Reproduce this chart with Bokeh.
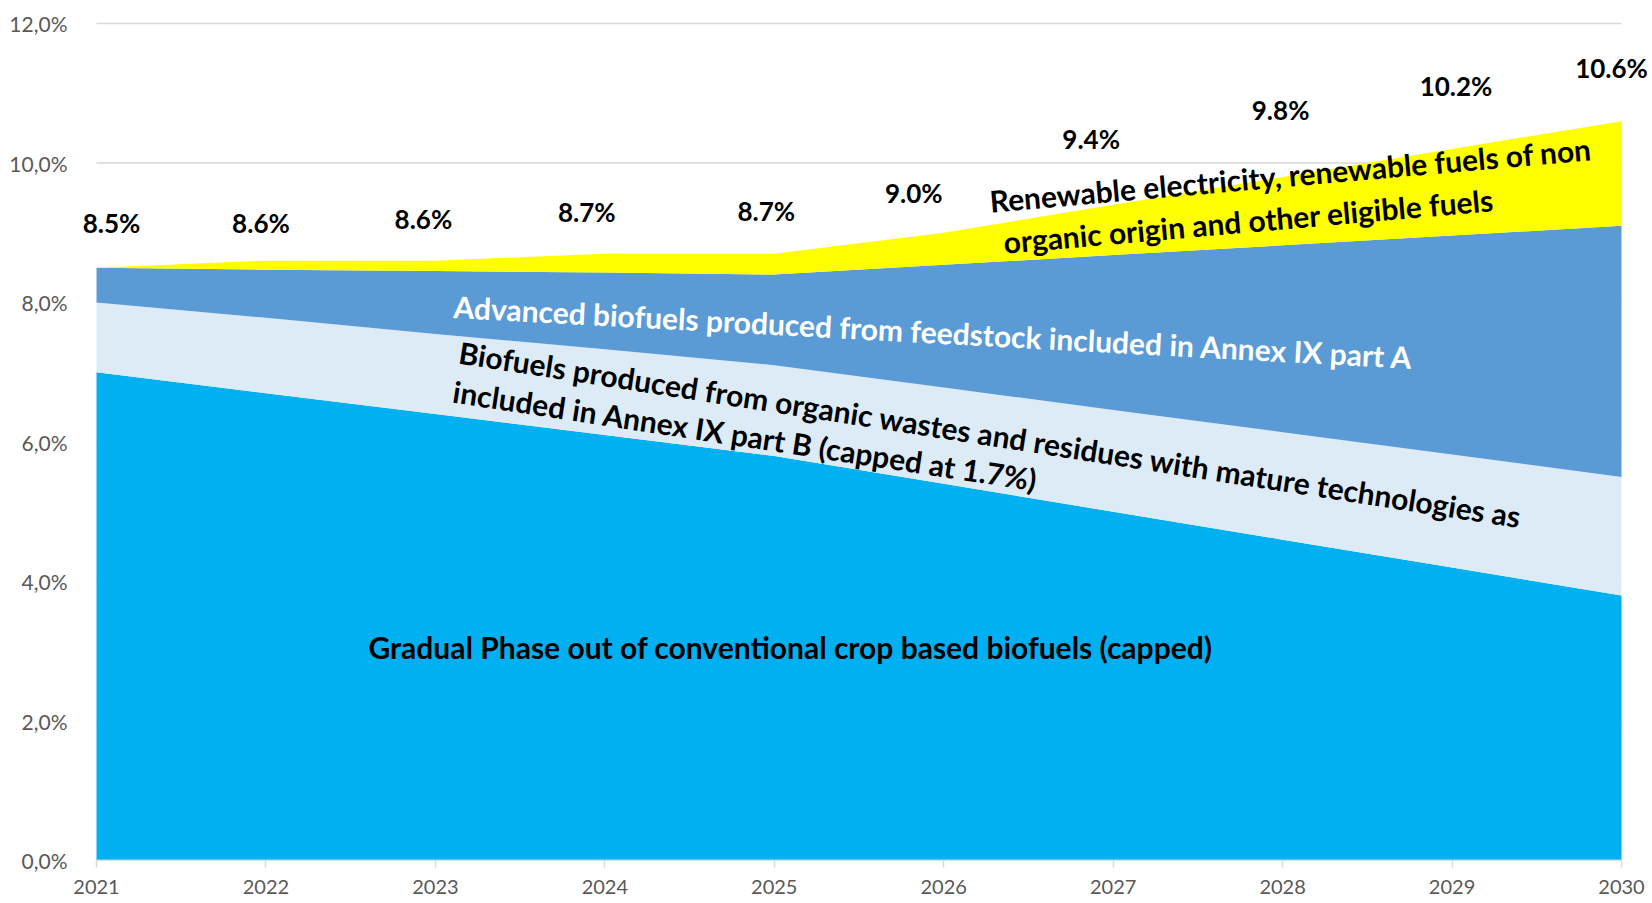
from bokeh.plotting import figure
from bokeh.models import Range1d, FixedTicker, ColumnDataSource, Label
from bokeh.embed import file_html
from bokeh.resources import INLINE

# ---------------- data ----------------
years = [2021, 2022, 2023, 2024, 2025, 2026, 2027, 2028, 2029, 2030]
conventional = [7.0, 6.7, 6.4, 6.1, 5.8, 5.4, 5.0, 4.6, 4.2, 3.8]
annex_ix_b = [1.0, 1.08, 1.15, 1.23, 1.3, 1.38, 1.46, 1.54, 1.62, 1.7]
annex_ix_a = [0.5, 0.69, 0.9, 1.1, 1.3, 1.76, 2.22, 2.68, 3.14, 3.6]
other_fuels = [0.0, 0.13, 0.15, 0.27, 0.3, 0.46, 0.72, 0.98, 1.24, 1.5]
total_labels = ["8.5%", "8.6%", "8.6%", "8.7%", "8.7%", "9.0%", "9.4%", "9.8%", "10.2%", "10.6%"]
y_ticks = [0, 2, 4, 6, 8, 10, 12]
y_tick_labels = ["0,0%", "2,0%", "4,0%", "6,0%", "8,0%", "10,0%", "12,0%"]
x_tick_labels = ["2021", "2022", "2023", "2024", "2025", "2026", "2027", "2028", "2029", "2030"]

FONT = "Lato"
colors = ["#00B0F0", "#DDEBF7", "#5B9BD5", "#FFFF00"]
GRID = "#D9D9D9"

totals = [a + b + c + d for a, b, c, d in zip(conventional, annex_ix_b, annex_ix_a, other_fuels)]

source = ColumnDataSource(dict(
    year=years, conv=conventional, ixb=annex_ix_b, ixa=annex_ix_a, oth=other_fuels,
))

# frame: left edge at 76px, 2021 at 96px, 2030 at 1621px, right edge at 1652px
px_per_year = 1525 / 9
px_per_pct = 69.75
p = figure(width=1652, height=903, output_backend="svg", toolbar_location=None,
           x_range=Range1d(years[0] - 20 / px_per_year, years[-1] + 31 / px_per_year),
           y_range=Range1d(0, y_ticks[-1] + 3 / px_per_pct),
           min_border_left=76, min_border_right=0, min_border_top=20, min_border_bottom=43)
p.outline_line_color = None
p.background_fill_color = "white"
p.xgrid.visible = False
p.ygrid.visible = False

# horizontal gridlines spanning the data range only
p.segment(x0=years[0], x1=years[-1], y0=y_ticks[1:], y1=y_ticks[1:], line_color=GRID, line_width=1.5)

p.varea_stack(stackers=["conv", "ixb", "ixa", "oth"], x="year", color=colors, source=source)

# baseline (category axis line)
p.segment(x0=years[0], x1=years[-1], y0=0, y1=0, line_color=GRID, line_width=2)

# y axis
p.yaxis.ticker = FixedTicker(ticks=y_ticks)
p.yaxis.major_label_overrides = {t: l for t, l in zip(y_ticks, y_tick_labels)}
p.yaxis.axis_line_color = None
p.yaxis.major_tick_line_color = None
p.yaxis.minor_tick_line_color = None
p.yaxis.major_label_standoff = 3
p.yaxis.major_label_text_font = FONT
p.yaxis.major_label_text_font_size = "21px"
p.yaxis.major_label_text_color = "#595959"

# x axis
p.xaxis.ticker = FixedTicker(ticks=years)
p.xaxis.major_label_overrides = {t: l for t, l in zip(years, x_tick_labels)}
p.xaxis.axis_line_color = None
p.xaxis.major_tick_line_color = GRID
p.xaxis.major_tick_line_width = 1.5
p.xaxis.major_tick_out = 7
p.xaxis.major_tick_in = 0
p.xaxis.minor_tick_line_color = None
p.xaxis.major_label_standoff = 12
p.xaxis.major_label_text_font = FONT
p.xaxis.major_label_text_font_size = "20px"
p.xaxis.major_label_text_color = "#595959"

# total labels (placed above each stack top)
label_dx = [15, -5, -12, -18, -8, -30, -22, -2, 4, -10]
label_dy = [45, 38, 42, 42, 43, 40, 66, 67, 63, 53]
for x, y, t, dx, dy in zip(years, totals, total_labels, label_dx, label_dy):
    p.add_layout(Label(x=x, y=y, text=t, x_offset=dx, y_offset=dy,
                       text_font=FONT, text_font_style="bold", text_font_size="26px",
                       text_color="black", text_align="center", text_baseline="middle"))

# band annotations
def note(x, y, text, angle, color="black"):
    p.add_layout(Label(x=x, y=y, text=text, angle=angle, text_font=FONT, text_font_style="bold",
                       text_font_size="30px", text_color=color, text_align="center",
                       text_baseline="middle"))

note(2025.096, 3.054, "Gradual Phase out of conventional crop based biofuels (capped)", 0.0)
note(2025.94, 7.584, "Advanced biofuels produced from feedstock included in Annex IX part A", -0.053, "white")
note(2026.276, 6.115, "Biofuels produced from organic wastes and residues with mature technologies as", -0.154)
note(2024.83, 6.100, "included in Annex IX part B (capped at 1.7%)", -0.151)
note(2028.047, 9.835, "Renewable electricity, renewable fuels of non", 0.087)
note(2027.799, 9.176, "organic origin and other eligible fuels", 0.087)

open("out.html", "w").write(file_html(p, INLINE))
